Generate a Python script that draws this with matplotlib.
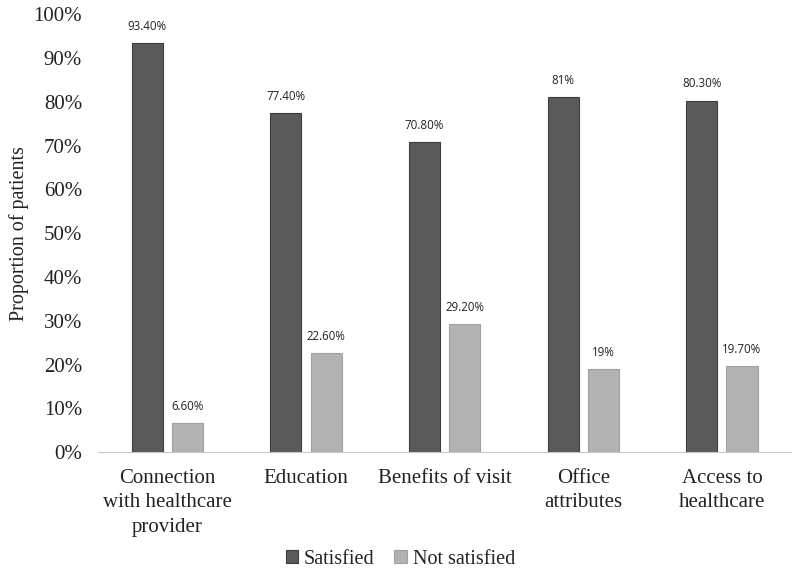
import matplotlib.pyplot as plt
import numpy as np
from matplotlib.ticker import PercentFormatter

# Datos del gráfico
categorias = ['Connection\nwith healthcare\nprovider', 'Education', 'Benefits of visit',
              'Office\nattributes', 'Access to\nhealthcare']
satisfeitos = [93.4, 77.4, 70.8, 81.0, 80.3]
nao_satisfeitos = [6.6, 22.6, 29.2, 19.0, 19.7]
rotulos_satisfeitos = ['93.40%', '77.40%', '70.80%', '81%', '80.30%']
rotulos_nao = ['6.60%', '22.60%', '29.20%', '19%', '19.70%']

serif = 'Liberation Serif'
sans = 'Open Sans'

fig = plt.figure(figsize=(8, 5.71), dpi=100)
ax = fig.add_axes([0.1225, 0.208, 0.8665, 0.767])

x = np.arange(len(categorias))
largura = 0.224
desloc = 0.145

b1 = ax.bar(x - desloc, satisfeitos, largura, color='#5a5a5a', edgecolor='#3c3c3c',
            linewidth=0.8, label='Satisfied')
b2 = ax.bar(x + desloc, nao_satisfeitos, largura, color='#b2b2b2', edgecolor='#a0a0a0',
            linewidth=0.8, label='Not satisfied')

# Rótulos de valor acima das barras
for barras, rotulos in ((b1, rotulos_satisfeitos), (b2, rotulos_nao)):
    for bar, rot in zip(barras, rotulos):
        ax.text(bar.get_x() + bar.get_width() / 2, bar.get_height() + 2.3, rot,
                ha='center', va='bottom', fontsize=8.3, family=sans, color='#222222')

ax.set_xlim(-0.5, len(categorias) - 0.5)
ax.set_ylim(0, 100)
ax.set_yticks(np.arange(0, 101, 10))
ax.yaxis.set_major_formatter(PercentFormatter(decimals=0))
ax.set_xticks(x)
ax.set_xticklabels(categorias, fontsize=15, family=serif, color='#222222', linespacing=1.4)
for lab in ax.get_yticklabels():
    lab.set_fontsize(15)
    lab.set_family(serif)
    lab.set_color('#222222')

ax.set_ylabel('Proportion of patients', fontsize=14.5, family=serif, color='#222222')
ax.yaxis.set_label_coords(-0.1, 0.5)

for s in ('top', 'right', 'left'):
    ax.spines[s].set_visible(False)
ax.spines['bottom'].set_color('#c8c8c8')
ax.tick_params(axis='both', length=0)
ax.tick_params(axis='x', pad=12)
ax.tick_params(axis='y', pad=11.5)

leg = ax.legend(loc='center', bbox_to_anchor=(0.436, -0.244), ncol=2, frameon=False,
                fontsize=14.5, handlelength=0.6, handleheight=0.6,
                columnspacing=1.0, handletextpad=0.3, borderpad=0.2)
for t in leg.get_texts():
    t.set_family(serif)
    t.set_color('#222222')

plt.savefig('out.png', dpi=100)
